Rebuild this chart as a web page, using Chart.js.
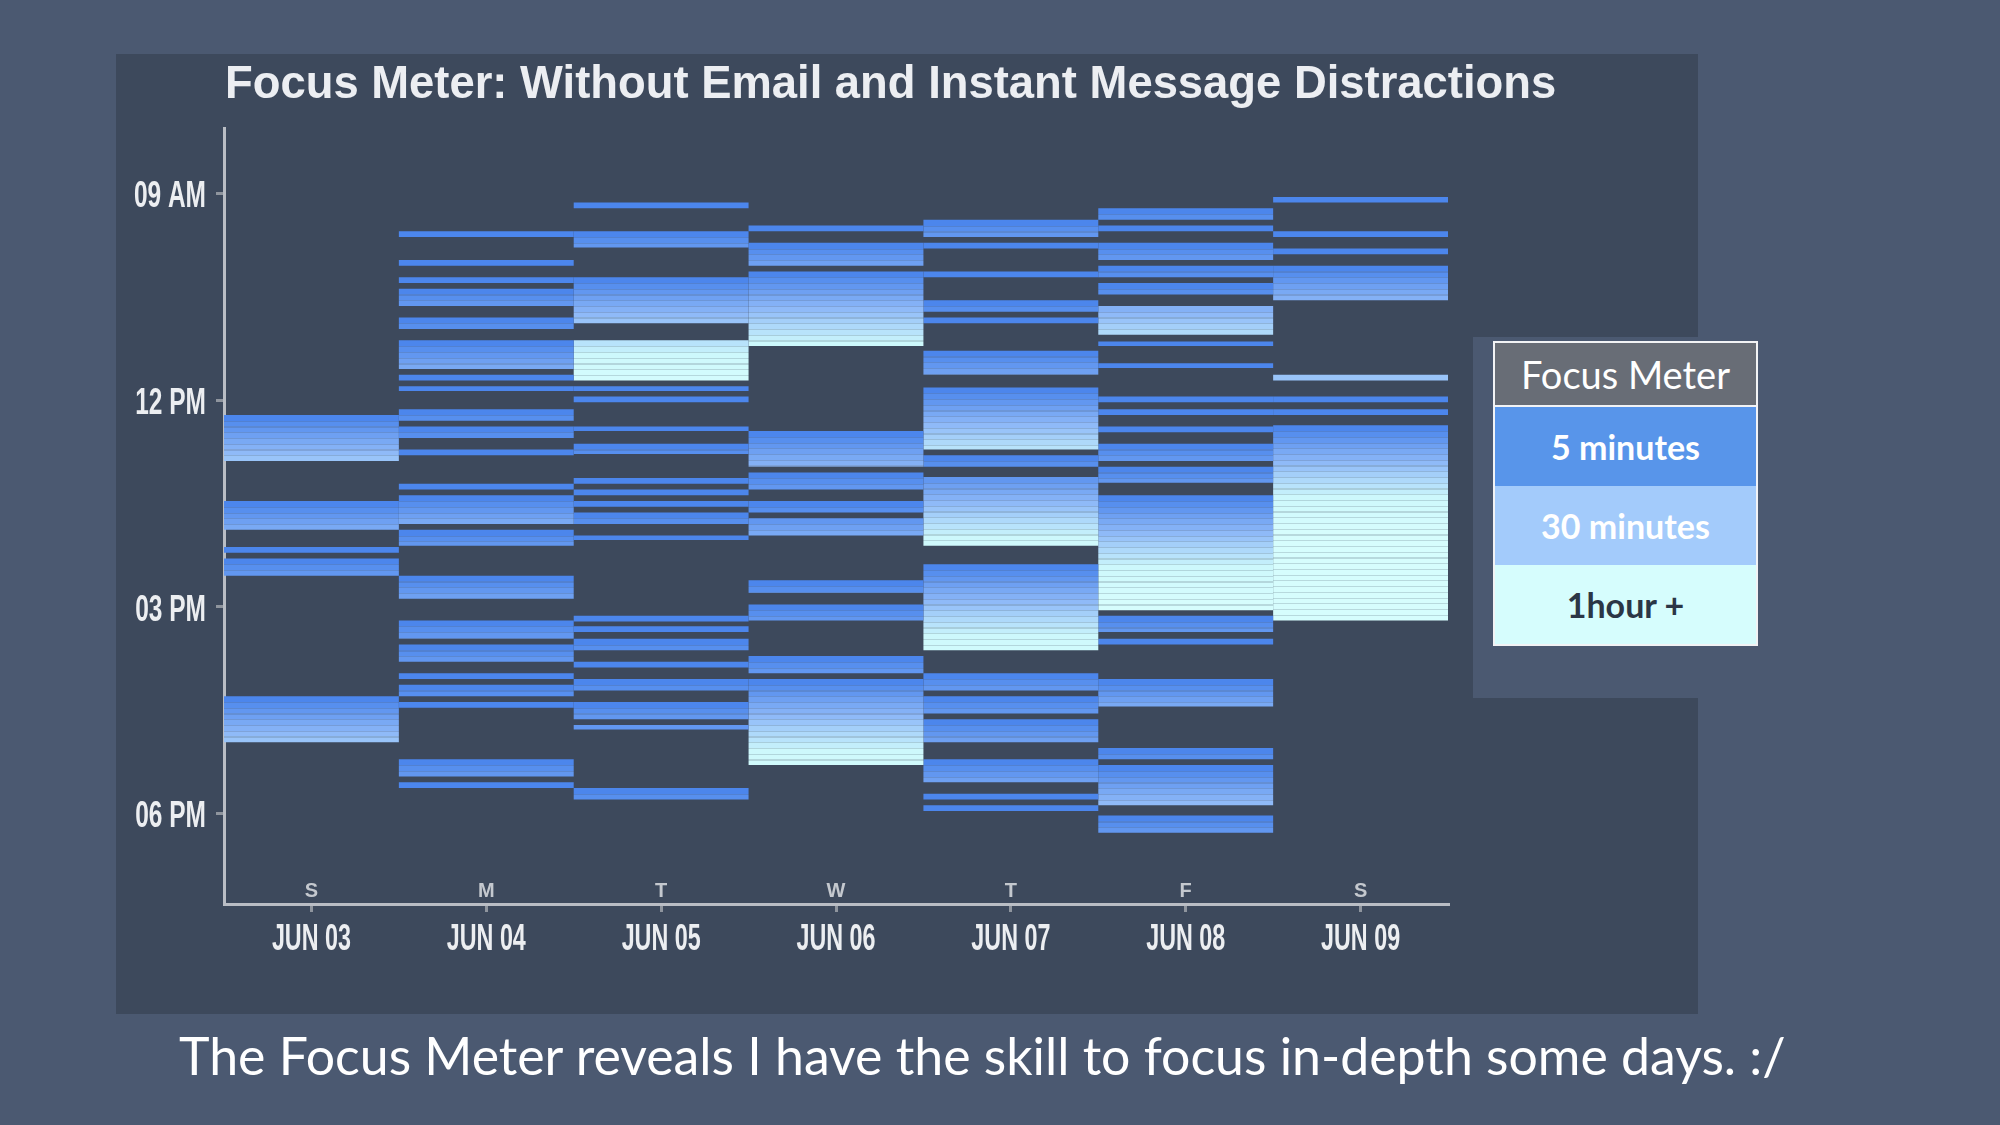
<!DOCTYPE html>
<html>
<head>
<meta charset="utf-8">
<title>Focus Meter</title>
<script src="https://cdn.jsdelivr.net/npm/chart.js@4.4.1/dist/chart.umd.min.js"></script>
<style>
  html, body { margin: 0; padding: 0; }
  body {
    width: 2000px; height: 1125px; position: relative; overflow: hidden;
    background: #4b5971; font-family: Lato, 'Open Sans', sans-serif;
  }
  #panel { position: absolute; left: 116px; top: 54px; width: 1582px; height: 960px; background: #3d495c; }
  #legend-back { position: absolute; left: 1473px; top: 337px; width: 225px; height: 361px; background: #4b5971; }
  #chart-wrap { position: absolute; left: 0; top: 0; width: 2000px; height: 1125px; }
  #title {
    position: absolute; left: 225px; top: 57px; line-height: 45px; white-space: nowrap;
    font: bold 45.4px 'Liberation Sans', Arial, sans-serif; color: #eceef2;
  }
  #legend {
    position: absolute; left: 1493px; top: 341px; width: 261px;
    border: 2px solid #f2f3f5; background: #f2f3f5;
  }
  #legend div { display: flex; align-items: center; justify-content: center; }
  #legend .head { height: 62px; background: #686d76; color: #ffffff; font-size: 38px; margin-bottom: 2px; }
  #legend .row { height: 79px; font-size: 34px; font-weight: bold; }
  #legend .r1 { background: #5895ea; color: #ffffff; }
  #legend .r2 { background: #a3cbfb; color: #ffffff; }
  #legend .r3 { background: #d6fdfd; color: #2b3646; }
  #caption {
    position: absolute; left: 179px; top: 1029px; line-height: 52px; white-space: nowrap;
    font-size: 51.8px; color: #ffffff;
  }
</style>
</head>
<body>
<div id="panel"></div>
<div id="legend-back"></div>
<div id="chart-wrap"><canvas id="focusChart"></canvas></div>
<div id="title">Focus Meter: Without Email and Instant Message Distractions</div>
<div id="legend">
  <div class="head">Focus Meter</div>
  <div class="row r1">5 minutes</div>
  <div class="row r2">30 minutes</div>
  <div class="row r3">1hour +</div>
</div>
<div id="caption">The Focus Meter reveals I have the skill to focus in-depth some days. :/</div>

<script>
// =======================
// DATA
// =======================
const days = ['JUN 03', 'JUN 04', 'JUN 05', 'JUN 06', 'JUN 07', 'JUN 08', 'JUN 09'];
const weekdays = ['S', 'M', 'T', 'W', 'T', 'F', 'S'];

const yTickValues = [540, 720, 900, 1080];
const yTickLabels = ['09 AM', '12 PM', '03 PM', '06 PM'];

// focus sessions: [start, end, focus minutes already built up at start]
const jun03 = [
  ['12:13', '12:53'], ['13:28', '13:53'], ['14:08', '14:13'], ['14:18', '14:33'], ['16:18', '16:58']
];
const jun04 = [
  ['09:33', '09:38'], ['09:58', '10:03'], ['10:13', '10:18'], ['10:23', '10:38'], ['10:48', '10:58'],
  ['11:08', '11:33'], ['11:38', '11:43'], ['11:48', '11:52'], ['12:08', '12:18'], ['12:23', '12:33'],
  ['12:43', '12:48'], ['13:13', '13:18'], ['13:23', '13:48'], ['13:53', '14:07'], ['14:33', '14:53'],
  ['15:12', '15:28'], ['15:33', '15:48'], ['15:58', '16:03'], ['16:08', '16:18'], ['16:23', '16:28'],
  ['17:13', '17:28'], ['17:33', '17:38']
];
const jun05 = [
  ['09:08', '09:13'], ['09:33', '09:47'], ['10:13', '10:53'], ['11:08', '11:43', 50], ['11:48', '11:52'],
  ['11:57', '12:02'], ['12:23', '12:27'], ['12:38', '12:47'], ['13:08', '13:13'], ['13:18', '13:23'],
  ['13:28', '13:33'], ['13:38', '13:48'], ['13:58', '14:02'], ['15:08', '15:13'], ['15:17', '15:22'],
  ['15:28', '15:38'], ['15:48', '15:53'], ['16:03', '16:13'], ['16:23', '16:38'], ['16:43', '16:47', 10],
  ['17:38', '17:48']
];
const jun06 = [
  ['09:28', '09:33'], ['09:43', '10:03'], ['10:08', '11:13'], ['12:27', '12:58'], ['13:03', '13:18'],
  ['13:28', '13:38'], ['13:43', '13:58', 10], ['14:37', '14:48'], ['14:58', '15:12'], ['15:43', '15:58'],
  ['16:03', '17:18']
];
const jun07 = [
  ['09:23', '09:38'], ['09:43', '09:48'], ['10:08', '10:13'], ['10:33', '10:43'], ['10:48', '10:53'],
  ['11:17', '11:38'], ['11:49', '12:43'], ['12:48', '12:58'], ['13:07', '14:07', 10], ['14:23', '15:38'],
  ['15:58', '16:13'], ['16:18', '16:33'], ['16:38', '16:58'], ['17:13', '17:33'], ['17:43', '17:48'],
  ['17:53', '17:58']
];
const jun08 = [
  ['09:13', '09:23'], ['09:28', '09:33'], ['09:43', '09:58'], ['10:03', '10:13'], ['10:18', '10:28'],
  ['10:38', '11:03', 25], ['11:09', '11:13'], ['11:28', '11:32'], ['11:57', '12:02'], ['12:08', '12:13'],
  ['12:23', '12:28'], ['12:38', '12:53'], ['12:58', '13:12'], ['13:23', '15:03'], ['15:08', '15:22'],
  ['15:28', '15:33'], ['16:03', '16:27'], ['17:03', '17:13'], ['17:18', '17:53'], ['18:02', '18:17']
];
const jun09 = [
  ['09:03', '09:08'], ['09:33', '09:38'], ['09:48', '09:53'], ['10:03', '10:33'], ['11:38', '11:43', 35],
  ['11:57', '12:02'], ['12:08', '12:13'], ['12:22', '15:12']
];

const sessions = [jun03, jun04, jun05, jun06, jun07, jun08, jun09];

// =======================
// COLOURS
// =======================
const PANEL = '#3d495c';
const FOCUS_STOPS = [[0, '#4c86ec'], [30, '#8fbaf8'], [60, '#cdf8fc'], [90, '#d6fdfd']];

const hexToRgb = h => [1, 3, 5].map(i => parseInt(h.substr(i, 2), 16));
const rgbStr = c => 'rgb(' + c.map(Math.round).join(',') + ')';

function colorAt(minutes) {
  const stops = FOCUS_STOPS;
  if (minutes >= stops[stops.length - 1][0]) return hexToRgb(stops[stops.length - 1][1]);
  for (let i = 1; i < stops.length; i++) {
    if (minutes <= stops[i][0]) {
      const t = (minutes - stops[i - 1][0]) / (stops[i][0] - stops[i - 1][0]);
      const a = hexToRgb(stops[i - 1][1]), b = hexToRgb(stops[i][1]);
      return a.map((v, k) => v + (b[k] - v) * t);
    }
  }
}

function focusFill(ctx) {
  const chart = ctx.chart;
  if (ctx.type !== 'data' || !chart.chartArea) return FOCUS_STOPS[0][1];
  const yScale = chart.scales.y;
  const [s, e] = ctx.raw.y;
  const carry = ctx.raw.carry;
  const p0 = yScale.getPixelForValue(s);
  const p1 = yScale.getPixelForValue(e);
  const h = p1 - p0;
  if (!(h > 1)) return rgbStr(colorAt(carry));
  const grad = chart.ctx.createLinearGradient(0, p0, 0, p1);
  const dur = e - s;
  const bg = hexToRgb(PANEL);
  for (let k = 0; k * 5 < dur; k++) {
    const c = colorAt(carry + 5 * k);
    const f0 = 5 * k / dur;
    const f1 = Math.min(5 * (k + 1) / dur, 1);
    const cs = rgbStr(c);
    if (k > 0) {
      const fl = Math.min(f0 + 1.2 / h, f1);
      const line = rgbStr(c.map((v, i) => v * 0.8 + bg[i] * 0.2));
      grad.addColorStop(f0, line);
      grad.addColorStop(fl, line);
      grad.addColorStop(fl, cs);
    } else {
      grad.addColorStop(0, cs);
    }
    grad.addColorStop(f1, cs);
  }
  return grad;
}

const toMin = t => {
  const [hh, mm] = t.split(':').map(Number);
  return hh * 60 + mm;
};

// =======================
// AXIS LABELS (condensed lettering)
// =======================
function condensedText(ctx, text, x, y, sx) {
  ctx.save();
  ctx.translate(x, y);
  ctx.scale(sx, 1);
  ctx.fillText(text, 0, 0);
  ctx.restore();
}

const axisLabelsPlugin = {
  id: 'axisLabels',
  afterDraw(chart) {
    const { ctx, scales: { x, y } } = chart;
    ctx.save();
    ctx.textBaseline = 'alphabetic';
    ctx.fillStyle = '#eceef1';

    ctx.font = 'bold 36px "Liberation Sans", Arial, sans-serif';
    ctx.textAlign = 'right';
    yTickValues.forEach((v, i) => condensedText(ctx, yTickLabels[i], 206, y.getPixelForValue(v) + 14, 0.68));

    ctx.font = 'bold 37px "Liberation Sans", Arial, sans-serif';
    ctx.textAlign = 'center';
    days.forEach((d, i) => condensedText(ctx, d, x.getPixelForValue(i), x.top + 46, 0.63));

    ctx.font = 'bold 20px "Liberation Sans", Arial, sans-serif';
    ctx.fillStyle = '#c4c8ce';
    weekdays.forEach((d, i) => ctx.fillText(d, x.getPixelForValue(i), x.top - 7));
    ctx.restore();
  }
};

new Chart(document.getElementById('focusChart'), {
  type: 'bar',
  data: {
    labels: days,
    datasets: sessions.map((list, i) => ({
      label: days[i],
      data: list.map(s => ({ x: days[i], y: [toMin(s[0]), toMin(s[1])], carry: s[2] || 0 })),
      backgroundColor: focusFill,
      borderWidth: 0,
      borderSkipped: false,
      inflateAmount: 0,
      grouped: false,
      barPercentage: 1,
      categoryPercentage: 1
    }))
  },
  options: {
    responsive: true,
    maintainAspectRatio: false,
    animation: false,
    layout: { padding: { left: 0, right: 552, top: 128, bottom: 0 } },
    plugins: {
      legend: { display: false },
      tooltip: { enabled: false }
    },
    scales: {
      x: {
        type: 'category',
        offset: true,
        grid: { offset: false, drawOnChartArea: false, drawTicks: true, tickLength: 8, color: '#8f959e', lineWidth: 3 },
        border: { color: '#b9bdc4', width: 3 },
        ticks: { display: false, autoSkip: false },
        afterFit: scale => { scale.height = 221; }
      },
      y: {
        type: 'linear',
        reverse: true,
        min: 483,
        max: 1159,
        z: 1,
        grid: { drawOnChartArea: false, drawTicks: true, tickLength: 8, color: '#8f959e', lineWidth: 3 },
        border: { color: '#b9bdc4', width: 3 },
        afterBuildTicks: scale => { scale.ticks = yTickValues.map(v => ({ value: v })); },
        ticks: { display: false },
        afterFit: scale => { scale.width = 224; }
      }
    }
  },
  plugins: [axisLabelsPlugin]
});
</script>
</body>
</html>
